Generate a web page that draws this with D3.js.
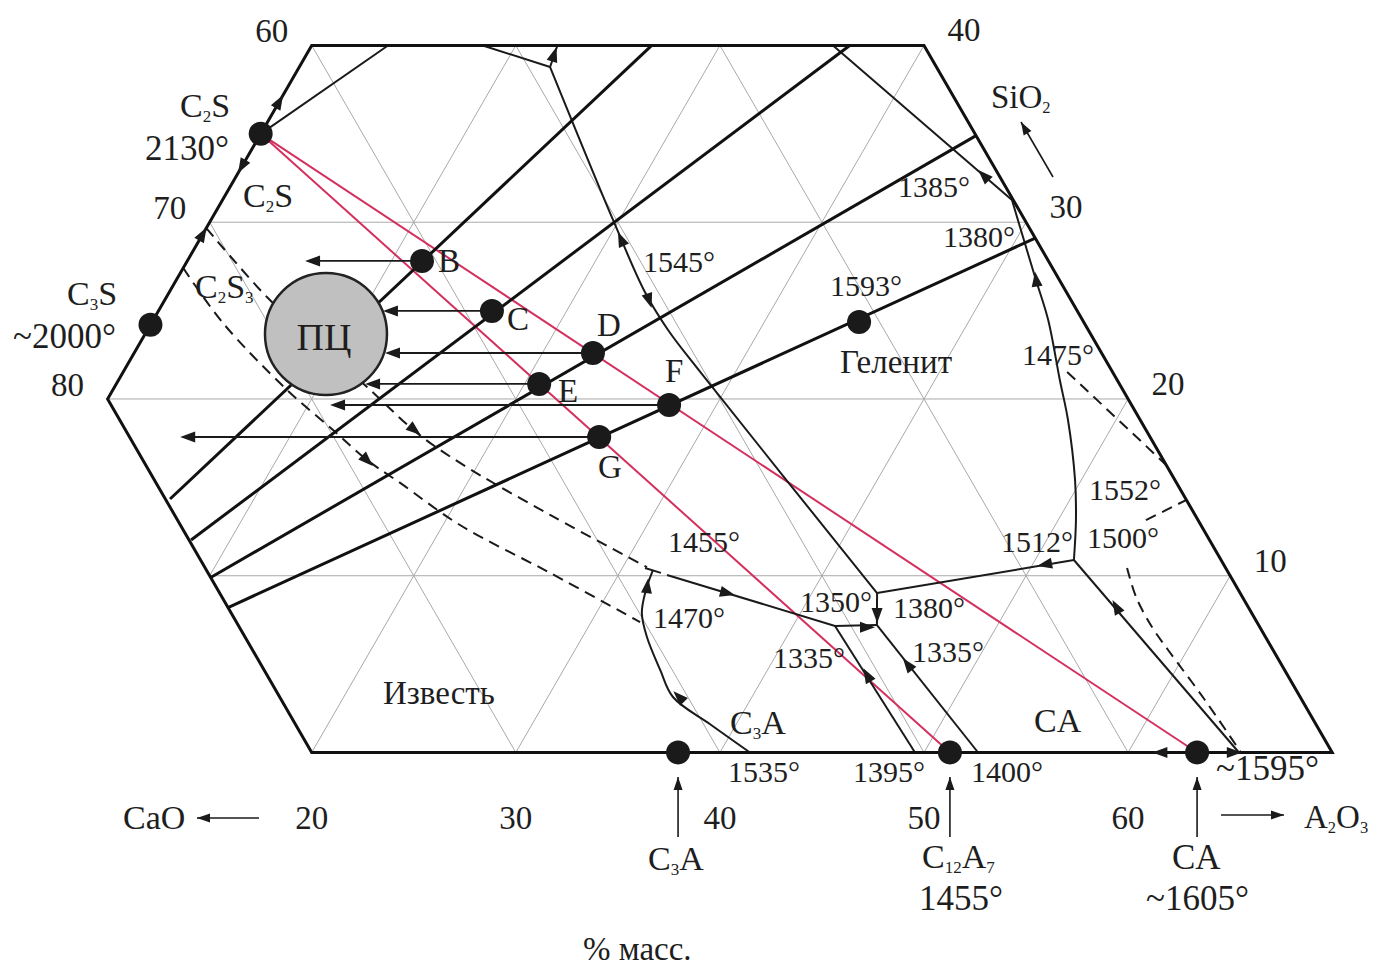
<!DOCTYPE html>
<html>
<head>
<meta charset="utf-8">
<script src="https://cdn.jsdelivr.net/npm/d3@7"></script>
<style>
  body { margin: 0; background: #fff; }
  svg { display: block; }
  text { font-family: "Liberation Serif", "Times New Roman", serif; fill: #1e1e1e; }
</style>
</head>
<body>
<svg id="chart" width="1379" height="967"></svg>
<script>
// Part of the CaO–Al2O3–SiO2 diagram. Every composition is [Al2O3 %, SiO2 %]; CaO is the rest.

// Drawn field: 30..80 % CaO, 0..40 % SiO2
const fieldOutline = [[20, 0], [0, 20], [0, 40], [30, 40], [70, 0]];
const gridSiO2 = [10, 20, 30];
const gridAl2O3 = [10, 20, 30, 40, 50, 60];
const gridCaO = [40, 50, 60, 70];

// Tick labels
const al2o3Ticks = [20, 30, 40, 50, 60];
const sio2Ticks = [10, 20, 30, 40];
const caoTicks = [60, 70, 80];

// Compounds and invariant points
const compoundNames = ["C2S", "C3S", "C3A", "C12A7", "CA", "Gehlenite"];
const compoundAl2O3 = [0, 0, 37.95, 51.27, 63.38, 34.64];
const compoundSiO2 = [35.0, 24.2, 0, 0, 0, 24.36];

// Raw-mix points B..G and Al2O3 content where their arrows end (same SiO2)
const mixNames = ["B", "C", "D", "E", "F", "G"];
const mixAl2O3 = [11.50, 16.34, 22.48, 20.72, 27.68, 25.16];
const mixSiO2 = [27.81, 24.98, 22.60, 20.85, 19.66, 17.85];
const mixArrowEndAl2O3 = [5.77, 11.00, 12.29, 12.19, 11.07, 4.63];

// Portland cement field centre
const cementCentre = [8.86, 23.68];

// Heavy straight joins
const joinLines = [
  [[5.89, 14.34], [16.66, 40]],
  [[8.08, 12.02], [26.36, 40]],
  [[10.1, 9.9], [35.1, 34.9]],
  [[11.8, 8.2], [40.9, 29.1]]
];

// Red joins from C2S
const redJoins = [["C2S", "C12A7"], ["C2S", "CA"]];

// Field boundaries (solid)
const straightBoundaries = [
  [[0, 35], [3.74, 40]],
  [[8.38, 40], [12.29, 38.78]],
  [[12.29, 38.78], [12.04, 40]],
  [[43.19, 9.02], [51.90, 10.89]],
  [[43.19, 9.02], [44.09, 7.21]],
  [[32.39, 10.04], [42.06, 7.16], [44.09, 7.21]],
  [[42.06, 7.16], [49.56, 0]],
  [[44.09, 7.21], [52.65, 0]],
  [[51.90, 10.89], [65.43, 0]],
  [[25.54, 40], [38.68, 31.26]],
  [[31.11, 10.44], [32.03, 10.16]]
];
const curvedBoundaries = [
  [[12.29, 38.78], [19.70, 30.13], [23.30, 26.05], [25.51, 23.90], [28.27, 21.53], [43.19, 9.02]],
  [[38.68, 31.26], [40.40, 28.99], [42.12, 26.73], [43.85, 24.47], [46.12, 21.07], [47.65, 18.81],
   [49.69, 15.42], [50.87, 13.15], [51.90, 10.89]],
  [[41.47, 0], [38.70, 1.61], [36.13, 3.14], [34.74, 4.67], [33.16, 6.53], [32.23, 7.89],
   [31.78, 9.19], [31.56, 10.32]]
];

// Dashed boundaries
const dashedBoundaries = [
  [[0, 29.67], [5.00, 25.71], [8.88, 23.05], [12.37, 20.68], [16.12, 18.08], [19.08, 16.38],
   [24.96, 13.44], [31.18, 10.49]],
  [[0, 27.41], [3.50, 24.30], [8.54, 20.51], [11.92, 18.25], [14.44, 16.55], [16.71, 15.25],
   [20.83, 12.87], [26.60, 10.16], [32.40, 7.38]],
  [[46.25, 21.53], [53.73, 16.27]],
  [[54.30, 13.15], [55.70, 14.28]],
  [[54.73, 10.44], [55.99, 8.80], [57.62, 7.10], [59.06, 5.80], [62.28, 2.97], [65.53, 0]]
];

// Falling-temperature arrows: [tip, point behind the tip]
const arrowHeads = [
  [[0, 37.2], [0, 36.3]],
  [[0, 32.78], [0, 33.6]],
  [[0, 29.7], [0, 28.9]],
  [[12.04, 39.91], [12.29, 38.78]],
  [[20.28, 29.45], [21.08, 28.54]],
  [[24.08, 25.15], [23.41, 26.0]],
  [[36.18, 32.95], [37.08, 32.29]],
  [[41.84, 27.20], [42.37, 26.35]],
  [[50.27, 10.55], [50.86, 10.70]],
  [[54.92, 8.63], [55.75, 7.78]],
  [[61.19, 0], [61.84, 0]],
  [[65.57, 0], [64.94, 0]],
  [[44.04, 7.33], [43.53, 8.34]],
  [[44.06, 7.08], [43.41, 7.08]],
  [[36.28, 8.91], [35.54, 9.10]],
  [[44.65, 4.76], [45.30, 4.10]],
  [[46.30, 5.33], [47.07, 4.67]],
  [[31.56, 9.86], [31.86, 9.10]],
  [[35.99, 3.46], [36.81, 2.86]],
  [[16.36, 17.96], [15.47, 18.53]],
  [[14.89, 16.21], [14.03, 16.83]]
];

// ---- projection -------------------------------------------------------
const xScale = d3.scaleLinear().domain([0, 100]).range([-96.5, -96.5 + 2041]);   // Al2O3 + SiO2/2
const yScale = d3.scaleLinear().domain([0, 100]).range([752.5, 752.5 - 1767.6]); // SiO2
const P = ([a, s]) => [xScale(a + s / 2), yScale(s)];

const svg = d3.select("#chart");
const line = d3.line().x(d => P(d)[0]).y(d => P(d)[1]);
const smooth = d3.line().x(d => P(d)[0]).y(d => P(d)[1]).curve(d3.curveCatmullRom.alpha(0.5));

const compound = {};
compoundNames.forEach((n, i) => compound[n] = [compoundAl2O3[i], compoundSiO2[i]]);

function head(sel, tipPx, backPx, len = 15, half = 5.5) {
  const dx = tipPx[0] - backPx[0], dy = tipPx[1] - backPx[1];
  const n = Math.hypot(dx, dy), ux = dx / n, uy = dy / n;
  const bx = tipPx[0] - ux * len, by = tipPx[1] - uy * len;
  sel.append("path")
    .attr("d", `M${tipPx[0]},${tipPx[1]}L${bx - uy * half},${by + ux * half}L${bx + uy * half},${by - ux * half}Z`)
    .attr("fill", "#1a1a1a");
}

// grid
const gridSegs = [];
gridSiO2.forEach(s => gridSegs.push([[Math.max(0, 20 - s), s], [70 - s, s]]));
gridAl2O3.forEach(a => gridSegs.push([[a, Math.max(0, 20 - a)], [a, Math.min(40, 70 - a)]]));
gridCaO.forEach(c => { const t = 100 - c, sm = Math.min(40, t); gridSegs.push([[t, 0], [t - sm, sm]]); });
svg.append("g").selectAll("path").data(gridSegs).join("path")
  .attr("d", line).attr("fill", "none").attr("stroke", "#a9a9a9").attr("stroke-width", 1);

// red joins
svg.append("g").selectAll("path").data(redJoins).join("path")
  .attr("d", d => line([compound[d[0]], compound[d[1]]]))
  .attr("fill", "none").attr("stroke", "#d4305e").attr("stroke-width", 2);

// boundaries
const gb = svg.append("g").attr("fill", "none").attr("stroke", "#1a1a1a").attr("stroke-width", 2);
gb.selectAll(".st").data(straightBoundaries).join("path").attr("class", "st").attr("d", line);
gb.selectAll(".cv").data(curvedBoundaries).join("path").attr("class", "cv").attr("d", smooth);
gb.selectAll(".ds").data(dashedBoundaries).join("path").attr("class", "ds").attr("d", smooth)
  .attr("stroke-dasharray", "11,7");

// heavy joins
svg.append("g").selectAll("path").data(joinLines).join("path")
  .attr("d", line).attr("fill", "none").attr("stroke", "#111").attr("stroke-width", 3);

// field outline
svg.append("path").attr("d", line(fieldOutline) + "Z")
  .attr("fill", "none").attr("stroke", "#111").attr("stroke-width", 3).attr("stroke-linejoin", "miter");

// arrowheads on boundaries
const ga = svg.append("g");
arrowHeads.forEach(([tip, back]) => head(ga, P(tip), P(back)));

// arrows from mixes towards the cement field
const gm = svg.append("g");
mixNames.forEach((n, i) => {
  const from = P([mixAl2O3[i], mixSiO2[i]]);
  const to = P([mixArrowEndAl2O3[i], mixSiO2[i]]);
  gm.append("line").attr("x1", from[0]).attr("y1", from[1]).attr("x2", to[0] + 6).attr("y2", to[1])
    .attr("stroke", "#1a1a1a").attr("stroke-width", 1.8);
  head(gm, to, from, 15, 5.5);
});

// cement field
const cc = P(cementCentre);
svg.append("circle").attr("cx", cc[0]).attr("cy", cc[1]).attr("r", 61)
  .attr("fill", "#c0c0c0").attr("stroke", "#222").attr("stroke-width", 2.5);
svg.append("text").attr("x", cc[0] - 2).attr("y", cc[1] + 16).attr("text-anchor", "middle")
  .attr("font-size", 38).text("ПЦ");

// points
const dots = compoundNames.map(n => compound[n])
  .concat(mixNames.map((n, i) => [mixAl2O3[i], mixSiO2[i]]));
svg.append("g").selectAll("circle").data(dots).join("circle")
  .attr("cx", d => P(d)[0]).attr("cy", d => P(d)[1]).attr("r", 12).attr("fill", "#1a1a1a");

// rich text with subscripts written as "_n"
function rich(sel, str, size) {
  const parts = str.split(/(_\d+)/).filter(p => p.length);
  const shift = size * 0.15;
  let low = false;
  parts.forEach(p => {
    if (p[0] === "_") {
      sel.append("tspan").text(p.slice(1)).attr("font-size", size * 0.5).attr("dy", low ? 0 : shift);
      low = true;
    } else {
      sel.append("tspan").text(p).attr("dy", low ? -shift : 0);
      low = false;
    }
  });
}

// tick labels
const gt = svg.append("g").attr("font-size", 33).attr("text-anchor", "middle");
al2o3Ticks.forEach(a => gt.append("text").attr("x", P([a, 0])[0]).attr("y", 829).text(a));
sio2Ticks.forEach(s => { const p = P([70 - s, s]); gt.append("text").attr("x", p[0] + 40).attr("y", p[1] - 4).text(s); });
caoTicks.forEach(c => { const p = P([0, 100 - c]); gt.append("text").attr("x", p[0] - 40).attr("y", p[1] - 3).text(c); });

// annotations: text, left x, baseline y, size
const annotations = [
  ["C_2S", 180, 117, 34], ["2130°", 145, 160, 35], ["C_2S", 243, 207, 34],
  ["C_3S", 67, 305, 34], ["~2000°", 13, 348, 35], ["C_2S_3", 195, 298, 34],
  ["B", 438, 272, 33], ["C", 507, 330, 33], ["D", 597, 336, 33],
  ["E", 558, 402, 33], ["F", 665, 382, 33], ["G", 598, 478, 33],
  ["1545°", 643, 272, 30], ["1593°", 830, 296, 30], ["Геленит", 840, 373, 33],
  ["1385°", 898, 197, 30], ["1380°", 943, 247, 30], ["1475°", 1022, 365, 30],
  ["1552°", 1089, 500, 30], ["1500°", 1087, 548, 30], ["1512°", 1001, 552, 30],
  ["1455°", 668, 552, 30], ["1470°", 653, 628, 30], ["1350°", 800, 612, 30],
  ["1380°", 893, 618, 30], ["1335°", 912, 662, 30], ["1335°", 773, 668, 30],
  ["Известь", 383, 704, 33], ["C_3A", 730, 734, 34], ["CA", 1034, 732, 34],
  ["1535°", 728, 782, 30], ["1395°", 853, 782, 30], ["1400°", 971, 782, 30],
  ["~1595°", 1216, 780, 35], ["CaO", 123, 829, 34], ["A_2O_3", 1304, 828, 33],
  ["C_3A", 648, 870, 34], ["C_12A_7", 922, 868, 34], ["1455°", 919, 910, 35],
  ["CA", 1172, 869, 35], ["~1605°", 1146, 910, 35], ["% масс.", 583, 960, 33],
  ["SiO_2", 991, 108, 33]
];
const gl = svg.append("g");
annotations.forEach(([t, x, y, size]) => {
  const el = gl.append("text").attr("x", x).attr("y", y).attr("font-size", size);
  rich(el, t, size);
});

// component direction arrows
const gd = svg.append("g");
function pointer(x1, y1, x2, y2) {
  gd.append("line").attr("x1", x1).attr("y1", y1).attr("x2", x2).attr("y2", y2)
    .attr("stroke", "#1a1a1a").attr("stroke-width", 1.6);
  head(gd, [x2, y2], [x1, y1], 13, 4.5);
}
pointer(259, 818, 197, 818);
pointer(1221, 815, 1284, 815);
pointer(1053, 177, 1021, 122);
["C3A", "C12A7", "CA"].forEach(n => { const x = P(compound[n])[0]; pointer(x, 837, x, 777); });
</script>
</body>
</html>
